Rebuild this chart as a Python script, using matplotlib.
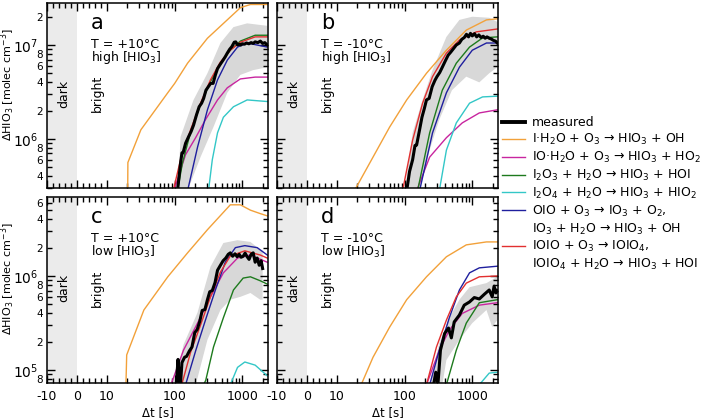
import numpy as np
import matplotlib
matplotlib.use("Agg")
from matplotlib import pyplot as plt
from matplotlib import ticker
from matplotlib.lines import Line2D

plt.rcParams['font.family'] = ['DejaVu Sans']
plt.rcParams['mathtext.default'] = 'regular'

# axis ticks
xticks = [-10, 0, 10, 100, 1000]
xticklabels = ['-10', '0', '10', '100', '1000']

# ---- panel a: +10 C, high HIO3 ----
a_meas_t = [110, 122, 128, 133, 145, 160, 175, 190, 210, 230, 250, 268, 290, 315, 340, 370, 400, 430, 470, 520,
            560, 600, 650, 700, 760, 800, 850, 900, 950, 1000, 1080, 1150, 1250, 1350, 1450, 1550, 1700, 1850,
            2000, 2150, 2340]
a_meas_y = [2.8e5, 5.5e5, 7.1e5, 7.1e5, 9.0e5, 1.05e6, 1.2e6, 1.4e6, 1.8e6, 2.2e6, 2.4e6, 2.7e6, 3.3e6, 3.6e6,
            3.9e6, 3.9e6, 4.8e6, 5.6e6, 6.2e6, 6.9e6, 7.5e6, 8.2e6, 9.0e6, 9.6e6, 1.07e7, 1.08e7, 1.0e7, 1.02e7,
            1.0e7, 1.03e7, 1.02e7, 1.05e7, 1.03e7, 1.06e7, 1.04e7, 1.08e7, 1.06e7, 1.1e7, 1.04e7, 1.06e7, 1.0e7]
a_hi_t = [112, 122, 190, 305, 475, 740, 1180, 2340]
a_hi_y = [2.8e5, 1.05e6, 2.6e6, 5.0e6, 1.05e7, 1.55e7, 1.7e7, 1.6e7]
a_lo_t = [155, 241, 375, 600, 935, 1450, 2340]
a_lo_y = [2.8e5, 6.4e5, 1.34e6, 3.1e6, 4.8e6, 5.4e6, 5.8e6]
a_ih2o_t = [20, 20.3, 31.6, 79, 100, 155, 305, 940, 1320, 2340]
a_ih2o_y = [1e5, 5.6e5, 1.25e6, 3.1e6, 3.9e6, 6.4e6, 1.18e7, 2.5e7, 2.7e7, 2.7e7]
a_ioh2o_t = [97, 145, 204, 285, 430, 600, 935, 1550, 2340]
a_ioh2o_y = [2.8e5, 6.8e5, 1.03e6, 1.6e6, 2.6e6, 3.5e6, 4.35e6, 4.55e6, 4.55e6]
a_i2o3_t = [110, 130, 170, 240, 340, 475, 665, 935, 1550, 2340]
a_i2o3_y = [2.8e5, 5.5e5, 1.15e6, 2.3e6, 4.1e6, 6.4e6, 8.8e6, 1.1e7, 1.27e7, 1.27e7]
a_i2o4_t = [316, 360, 430, 525, 740, 1180, 2340]
a_i2o4_y = [2.8e5, 6.0e5, 1.16e6, 1.7e6, 2.2e6, 2.6e6, 2.5e6]
a_oio_t = [155, 218, 305, 430, 600, 850, 1180, 2340]
a_oio_y = [2.8e5, 8.2e5, 2.04e6, 4.25e6, 6.9e6, 9.5e6, 1.05e7, 9.5e6]
a_ioio_t = [95, 122, 172, 241, 338, 475, 665, 935, 1550, 2340]
a_ioio_y = [2.8e5, 6.0e5, 1.25e6, 2.4e6, 4.25e6, 6.6e6, 8.8e6, 1.07e7, 1.22e7, 1.22e7]

# ---- panel b: -10 C, high HIO3 ----
b_meas_t = [107, 118, 131, 142, 150, 166, 180, 195, 210, 230, 255, 280, 300, 330, 360, 400, 440, 480, 530, 580,
            645, 700, 760, 820, 880, 940, 1000, 1080, 1160, 1250, 1350, 1450, 1550, 1650, 1780, 1900, 2050,
            2200, 2340]
b_meas_y = [2.8e5, 4.5e5, 6.0e5, 8.5e5, 8.6e5, 1.25e6, 1.7e6, 2.1e6, 2.6e6, 2.7e6, 3.6e6, 4.2e6, 4.6e6, 5.1e6,
            5.8e6, 6.8e6, 7.8e6, 8.4e6, 9.2e6, 1.0e7, 1.05e7, 1.15e7, 1.2e7, 1.3e7, 1.22e7, 1.33e7, 1.25e7,
            1.32e7, 1.22e7, 1.28e7, 1.2e7, 1.24e7, 1.18e7, 1.22e7, 1.18e7, 1.16e7, 1.12e7, 1.1e7, 1.05e7]
b_hi_t = [100, 131, 184, 258, 414, 645, 1000, 1780, 2340]
b_hi_y = [2.8e5, 1.16e6, 2.6e6, 5.4e6, 1.22e7, 1.85e7, 2.0e7, 1.95e7, 1.76e7]
b_lo_t = [166, 234, 325, 500, 815, 1270, 1780, 2340]
b_lo_y = [2.8e5, 7.6e5, 1.6e6, 3.3e6, 4.6e6, 4.0e6, 5.0e6, 5.8e6]
b_ih2o_t = [18, 34, 60, 107, 210, 414, 815, 1620, 2340]
b_ih2o_y = [2.8e5, 6.4e5, 1.34e6, 2.6e6, 5.0e6, 8.8e6, 1.44e7, 1.85e7, 1.9e7]
b_ioh2o_t = [150, 234, 414, 710, 1270, 2340]
b_ioh2o_y = [2.8e5, 6.4e5, 1.03e6, 1.48e6, 1.89e6, 2.04e6]
b_i2o3_t = [155, 234, 360, 580, 910, 1420, 2340]
b_i2o3_y = [2.8e5, 1.16e6, 3.3e6, 6.4e6, 9.5e6, 1.19e7, 1.22e7]
b_i2o4_t = [325, 414, 580, 910, 1420, 2340]
b_i2o4_y = [2.8e5, 7.6e5, 1.48e6, 2.4e6, 2.8e6, 2.85e6]
b_oio_t = [166, 258, 414, 645, 1000, 1620, 2340]
b_oio_y = [2.8e5, 1.16e6, 3.1e6, 5.8e6, 8.8e6, 1.05e7, 1.05e7]
b_ioio_t = [93, 131, 184, 258, 414, 645, 1150, 2340]
b_ioio_y = [2.8e5, 9.7e5, 2.4e6, 4.6e6, 8.2e6, 1.13e7, 1.38e7, 1.48e7]

# ---- panel c: +10 C, low HIO3 ----
c_meas_t = [104, 108, 112, 116, 120, 128, 140, 150, 165, 180, 198, 215, 235, 255, 280, 305, 330, 360, 395, 430,
            475, 520, 570, 620, 665, 720, 780, 840, 900, 960, 1030, 1100, 1180, 1260, 1350, 1450, 1550, 1660,
            1780, 1900, 2000]
c_meas_y = [6e4, 9e4, 1.3e5, 9e4, 6e4, 1.2e5, 1.37e5, 1.4e5, 1.6e5, 1.76e5, 2.5e5, 2.7e5, 3.3e5, 4.3e5, 4.4e5,
            5.6e5, 6.8e5, 7.0e5, 8.5e5, 1.15e6, 1.3e6, 1.45e6, 1.55e6, 1.7e6, 1.76e6, 1.62e6, 1.72e6, 1.6e6,
            1.7e6, 1.58e6, 1.62e6, 1.75e6, 1.6e6, 1.5e6, 1.7e6, 1.76e6, 1.4e6, 1.55e6, 1.3e6, 1.45e6, 1.2e6]
c_hi_t = [100, 135, 218, 338, 525, 850, 1320, 1840, 2000]
c_hi_y = [7e4, 1.86e5, 4.1e5, 1.25e6, 2.24e6, 2.4e6, 2.3e6, 1.9e6, 1.85e6]
c_lo_t = [205, 305, 475, 665, 935, 1320, 1840, 2000]
c_lo_y = [7e4, 2.1e5, 4.35e5, 5.6e5, 6.0e5, 6.6e5, 5.6e5, 5.6e5]
c_ih2o_t = [19, 19.5, 35, 79, 155, 305, 665, 935, 1320, 1840, 2340]
c_ih2o_y = [7e4, 1.45e5, 4.35e5, 9.8e5, 1.76e6, 3.1e6, 5.7e6, 5.7e6, 5.0e6, 4.6e6, 4.35e6]
c_ioh2o_t = [87, 93, 135, 218, 338, 525, 850, 1320, 2340]
c_ioh2o_y = [7e4, 7.8e4, 1.63e5, 3.16e5, 6.0e5, 1.08e6, 1.55e6, 1.67e6, 1.4e6]
c_i2o3_t = [268, 288, 375, 525, 740, 1030, 1320, 1840, 2340]
c_i2o3_y = [7e4, 7.8e4, 1.76e5, 3.6e5, 7.1e5, 9.5e5, 9.8e5, 8.9e5, 8.2e5]
c_i2o4_t = [665, 850, 1090, 1550, 2040, 2340]
c_i2o4_y = [7e4, 1.07e5, 1.22e5, 1.13e5, 9.5e4, 8.7e4]
c_oio_t = [145, 204, 285, 400, 560, 790, 1090, 1660, 2340]
c_oio_y = [7e4, 1.6e5, 3.4e5, 7.1e5, 1.4e6, 2.0e6, 2.1e6, 2.0e6, 1.67e6]
c_ioio_t = [127, 172, 241, 338, 475, 665, 1090, 1840, 2340]
c_ioio_y = [7e4, 1.55e5, 3.0e5, 6.0e5, 1.1e6, 1.63e6, 1.85e6, 1.67e6, 1.55e6]

# ---- panel d: -10 C, low HIO3 ----
d_meas_t = [258, 288, 310, 338, 390, 445, 490, 540, 645, 760, 910, 1070, 1270, 1510, 1780, 1970, 2100, 2240, 2340]
d_meas_y = [6e4, 9.5e4, 7e4, 1.63e5, 2.45e5, 2.8e5, 2.2e5, 3.25e5, 3.85e5, 4.9e5, 5.3e5, 5.9e5, 5.7e5, 6.4e5,
            7.1e5, 6.0e5, 7.8e5, 6.6e5, 7.0e5]
d_hi_t = [234, 325, 457, 645, 910, 1620, 2340]
d_hi_y = [7e4, 1.94e5, 3.6e5, 5.6e5, 7.6e5, 8.4e5, 9.8e5]
d_lo_t = [360, 414, 645, 1000, 1620, 1970, 2340]
d_lo_y = [7e4, 1.28e5, 2.1e5, 3.16e5, 4.35e5, 2.87e5, 3.4e5]
d_ih2o_t = [23.3, 34, 60, 107, 210, 414, 815, 1620, 2340]
d_ih2o_y = [7.3e4, 1.37e5, 2.87e5, 5.6e5, 9.8e5, 1.6e6, 2.14e6, 2.3e6, 2.3e6]
d_ioh2o_t = [210, 325, 457, 710, 1270, 2340]
d_ioh2o_y = [7e4, 1.63e5, 2.66e5, 4.0e5, 4.9e5, 5.2e5]
d_i2o3_t = [414, 580, 815, 1270, 2340]
d_i2o3_y = [7e4, 1.63e5, 3.16e5, 5.2e5, 5.6e5]
d_i2o4_t = [1270, 1780, 2340]
d_i2o4_y = [7e4, 9.3e4, 9.5e4]
d_oio_t = [234, 325, 457, 645, 910, 1270, 2340]
d_oio_y = [7e4, 1.63e5, 3.6e5, 7.1e5, 1.08e6, 1.22e6, 1.27e6]
d_ioio_t = [210, 295, 414, 580, 815, 1270, 2340]
d_ioio_y = [7e4, 1.76e5, 3.4e5, 6.0e5, 8.4e5, 9.8e5, 1.0e6]

panel_letters = ['a', 'b', 'c', 'd']
panel_temps = ['T = +10°C', 'T = -10°C', 'T = +10°C', 'T = -10°C']
panel_levels = ['high [HIO$_3$]', 'high [HIO$_3$]', 'low [HIO$_3$]', 'low [HIO$_3$]']

legend_labels = ['measured',
                 'I·H$_2$O + O$_3$ → HIO$_3$ + OH',
                 'IO·H$_2$O + O$_3$ → HIO$_3$ + HO$_2$',
                 'I$_2$O$_3$ + H$_2$O → HIO$_3$ + HOI',
                 'I$_2$O$_4$ + H$_2$O → HIO$_3$ + HIO$_2$',
                 'OIO + O$_3$ → IO$_3$ + O$_2$,',
                 'IO$_3$ + H$_2$O → HIO$_3$ + OH',
                 'IOIO + O$_3$ → IOIO$_4$,',
                 'IOIO$_4$ + H$_2$O → HIO$_3$ + HOI']

c_ih2o = '#f2a13a'
c_ioh2o = '#c8259f'
c_i2o3 = '#1d7a1d'
c_i2o4 = '#33c7c7'
c_oio = '#1f1f9e'
c_ioio = '#e23030'

panels = [
    (a_meas_t, a_meas_y, a_hi_t, a_hi_y, a_lo_t, a_lo_y,
     [(a_ih2o_t, a_ih2o_y, c_ih2o), (a_ioh2o_t, a_ioh2o_y, c_ioh2o), (a_i2o3_t, a_i2o3_y, c_i2o3),
      (a_i2o4_t, a_i2o4_y, c_i2o4), (a_oio_t, a_oio_y, c_oio), (a_ioio_t, a_ioio_y, c_ioio)]),
    (b_meas_t, b_meas_y, b_hi_t, b_hi_y, b_lo_t, b_lo_y,
     [(b_ih2o_t, b_ih2o_y, c_ih2o), (b_ioh2o_t, b_ioh2o_y, c_ioh2o), (b_i2o3_t, b_i2o3_y, c_i2o3),
      (b_i2o4_t, b_i2o4_y, c_i2o4), (b_oio_t, b_oio_y, c_oio), (b_ioio_t, b_ioio_y, c_ioio)]),
    (c_meas_t, c_meas_y, c_hi_t, c_hi_y, c_lo_t, c_lo_y,
     [(c_ih2o_t, c_ih2o_y, c_ih2o), (c_ioh2o_t, c_ioh2o_y, c_ioh2o), (c_i2o3_t, c_i2o3_y, c_i2o3),
      (c_i2o4_t, c_i2o4_y, c_i2o4), (c_oio_t, c_oio_y, c_oio), (c_ioio_t, c_ioio_y, c_ioio)]),
    (d_meas_t, d_meas_y, d_hi_t, d_hi_y, d_lo_t, d_lo_y,
     [(d_ih2o_t, d_ih2o_y, c_ih2o), (d_ioh2o_t, d_ioh2o_y, c_ioh2o), (d_i2o3_t, d_i2o3_y, c_i2o3),
      (d_i2o4_t, d_i2o4_y, c_i2o4), (d_oio_t, d_oio_y, c_oio), (d_ioio_t, d_ioio_y, c_ioio)]),
]
ylims = [(3.0e5, 2.8e7), (3.0e5, 2.8e7), (7.3e4, 6.9e6), (7.3e4, 6.9e6)]

fig = plt.figure(figsize=(7.06, 4.19), dpi=100)
W, H = 706, 419
boxes = [(47, 3), (277, 3), (47, 197), (277, 197)]
heights = [185, 185, 186, 186]

x_minor = [-8, -6, -4, -2, 2, 4, 6, 8] + [m * 10 ** e for e in (1, 2) for m in range(2, 10)] + [2000]


def minor_fmt(v, pos):
    e = np.floor(np.log10(v) + 1e-9)
    m = v / 10 ** e
    r = int(round(m))
    if abs(m - r) < 1e-6 and r in (2, 4, 6, 8):
        return str(r)
    return ''


for i, (mt, my, ht, hy, lt, ly, models) in enumerate(panels):
    x0, y0 = boxes[i]
    ax = fig.add_axes([x0 / W, 1 - (y0 + heights[i]) / H, 221 / W, heights[i] / H])
    ax.set_xscale('symlog', linthresh=10, linscale=0.4)
    ax.set_yscale('log')
    ax.axvspan(-10, 0, color='#ebebeb', lw=0, zorder=0)
    ax.fill(np.r_[ht, lt[::-1]], np.r_[hy, ly[::-1]], color='#d8d8d8', lw=0, zorder=1)
    for t, y, col in models:
        ax.plot(t, y, color=col, lw=1.0, zorder=2)
    ax.plot(mt, my, color='black', lw=2.2, zorder=3)
    ax.set_xlim(-10, 2400)
    ax.set_ylim(*ylims[i])

    ax.set_xticks(xticks)
    ax.xaxis.set_minor_locator(ticker.FixedLocator(x_minor))
    ax.xaxis.set_minor_formatter(ticker.NullFormatter())
    ax.yaxis.set_major_locator(ticker.LogLocator(base=10, numticks=10))
    ax.yaxis.set_major_formatter(ticker.LogFormatterSciNotation())
    ax.yaxis.set_minor_locator(ticker.LogLocator(base=10, subs=np.arange(2, 10), numticks=20))
    ax.yaxis.set_minor_formatter(ticker.FuncFormatter(minor_fmt))
    ax.tick_params(which='both', direction='in', top=True, right=True, width=1.0)
    ax.tick_params(which='major', length=6)
    ax.tick_params(which='minor', length=3.5)
    ax.tick_params(axis='y', which='major', labelsize=10, pad=6)
    ax.tick_params(axis='y', which='minor', labelsize=7.5, pad=3)
    ax.tick_params(axis='x', which='major', labelsize=9, pad=5)
    for s in ax.spines.values():
        s.set_linewidth(1.1)

    if i < 2:
        ax.tick_params(axis='x', labelbottom=False)
    else:
        ax.set_xticklabels(xticklabels)
        ax.set_xlabel('Δt [s]', fontsize=8.5, labelpad=2)
    if i % 2 == 1:
        ax.tick_params(axis='y', which='both', labelleft=False)
    else:
        ax.set_ylabel('ΔHIO$_3$ [molec cm$^{-3}$]', fontsize=8)
        ax.yaxis.set_label_coords(-0.138, 0.56)

    ax.text(0.2, 0.89, panel_letters[i], transform=ax.transAxes, fontsize=15, va='center', ha='left')
    ax.text(0.2, 0.775, panel_temps[i], transform=ax.transAxes, fontsize=9, va='center', ha='left')
    ax.text(0.2, 0.705, panel_levels[i], transform=ax.transAxes, fontsize=9, va='center', ha='left')
    ax.text(0.075, 0.51, 'dark', transform=ax.transAxes, fontsize=9, rotation=90, va='center', ha='center')
    ax.text(0.226, 0.51, 'bright', transform=ax.transAxes, fontsize=9, rotation=90, va='center', ha='center')

leg_colors = ['black', c_ih2o, c_ioh2o, c_i2o3, c_i2o4, c_oio, 'none', c_ioio, 'none']
handles = [Line2D([], [], color=c, lw=(2.8 if c == 'black' else 1.0)) for c in leg_colors]
fig.legend(handles, legend_labels, loc='upper left', bbox_to_anchor=(0.711, 0.722), frameon=False,
           fontsize=9, handlelength=1.85, handletextpad=0.55, labelspacing=0.22, borderpad=0,
           borderaxespad=0)

fig.savefig('out.png', dpi=100)
